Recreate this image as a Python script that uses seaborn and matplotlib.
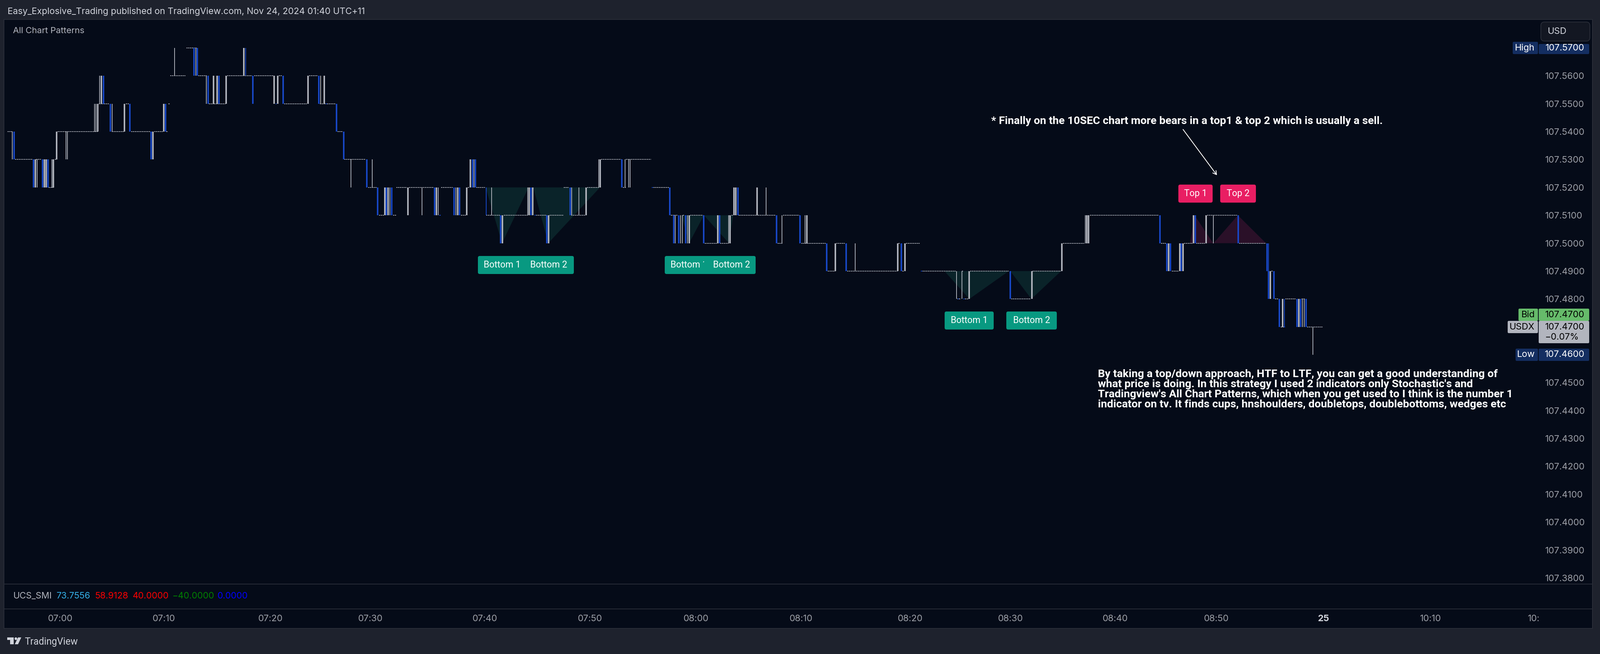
import matplotlib
matplotlib.use("Agg")
import matplotlib.pyplot as plt
import pandas as pd
import seaborn as sns
from matplotlib.patches import Circle, FancyArrowPatch, FancyBboxPatch, Polygon, Rectangle
from matplotlib.transforms import Affine2D

# x axis is bar number, price on y
price_ticks = [107.38, 107.39, 107.40, 107.41, 107.42, 107.43, 107.44, 107.45, 107.48, 107.49,
               107.50, 107.51, 107.52, 107.53, 107.54, 107.55, 107.56]
time_ticks = [33.3, 90.7, 150, 205.4, 268.8, 327, 385.8, 444.2, 504.6, 560.2, 618.4, 674.4, 733.8, 793.2, 850.4]
time_labels = ["07:00", "07:10", "07:20", "07:30", "07:40", "07:50", "08:00", "08:10", "08:20", "08:30",
               "08:40", "08:50", "25", "10:10", "10:"]

# flat candles
flat_price = [107.54, 107.53, 107.53, 107.52, 107.53, 107.54, 107.55, 107.54, 107.55, 107.54, 107.54, 107.54,
              107.55, 107.56, 107.57, 107.56, 107.55, 107.56, 107.56, 107.56, 107.55, 107.56, 107.55, 107.54,
              107.53, 107.52, 107.51, 107.51, 107.52, 107.52, 107.52, 107.51, 107.52, 107.52, 107.51, 107.51,
              107.51, 107.51, 107.52, 107.51, 107.52, 107.53, 107.52, 107.53, 107.52, 107.51, 107.51, 107.51,
              107.50, 107.50, 107.51, 107.51, 107.50, 107.51, 107.50, 107.49, 107.50, 107.49, 107.50, 107.49,
              107.50, 107.49, 107.49, 107.49, 107.48, 107.48, 107.48, 107.49, 107.50, 107.51, 107.50, 107.49,
              107.50, 107.50, 107.51, 107.50, 107.49, 107.48, 107.47, 107.48, 107.48, 107.47]
flat_start = [4.2, 8.3, 20.0, 27.0, 30.4, 31.9, 54.8, 61.9, 69.8, 72.7, 85.5, 92.1,
              93.4, 94.4, 103.3, 110.0, 115.8, 126.0, 140.9, 154.6, 157.6, 171.4, 177.3, 187.2,
              191.0, 204.1, 210.2, 217.9, 219.8, 226.8, 244.6, 255.5, 259.3, 264.2, 269.5, 279.3,
              296.3, 304.8, 312.6, 316.7, 325.6, 333.3, 345.4, 347.0, 361.4, 371.9, 378.6, 382.7,
              390.7, 399.4, 405.6, 409.6, 431.2, 434.2, 444.3, 459.0, 463.8, 469.8, 498.2, 500.4,
              502.4, 510.6, 533.3, 538.0, 530.7, 534.2, 560.7, 572.6, 589.4, 604.3, 643.8, 649.7,
              656.6, 663.3, 669.4, 687.2, 705.0, 707.0, 710.1, 712.8, 721.8, 724.7]
flat_end = [7.0, 17.9, 23.0, 30.0, 31.6, 54.2, 60.6, 68.9, 71.4, 83.2, 90.6, 93.1,
            94.1, 102.8, 109.1, 114.5, 125.0, 139.7, 151.5, 156.2, 170.3, 176.0, 186.0, 190.0,
            202.8, 208.9, 212.8, 219.8, 225.5, 240.6, 251.0, 258.4, 260.3, 269.1, 277.2, 292.5,
            302.7, 312.6, 315.4, 324.7, 332.0, 344.4, 346.9, 361.0, 370.9, 375.8, 379.6, 389.7,
            397.7, 403.8, 406.6, 430.0, 433.8, 443.1, 458.0, 463.1, 468.6, 497.6, 499.2, 501.4,
            510.1, 530.1, 534.0, 559.4, 532.7, 537.1, 571.6, 588.4, 601.4, 642.6, 646.3, 653.5,
            661.2, 668.4, 686.1, 702.0, 705.8, 708.9, 712.4, 718.6, 723.5, 733.4]
blue_flat_price = [107.55, 107.55, 107.51, 107.51, 107.52, 107.49, 107.48, 107.48, 107.47]
blue_flat_start = [152.7, 180.6, 243.6, 296.3, 361.4, 510.6, 531.0, 534.2, 711.8]
blue_flat_end = [153.4, 181.4, 244.4, 297.1, 362.2, 511.4, 531.8, 535.0, 712.6]

# each list below holds the bars starting from that low, every bar spans one 0.01 tick
bar_lows = [107.46, 107.47, 107.48, 107.49, 107.50, 107.51, 107.52, 107.53, 107.54, 107.55, 107.56]
blue_bars = [
    [],
    [709.4, 719.2, 721.2, 724.2],
    [560.2, 703.4, 706.4],
    [458.4, 469.1, 499.7, 647.0, 649.0, 655.0, 702.6],
    [277.6, 303.2, 373.5, 376.4, 380.2, 390.2, 399.0, 430.6, 443.6, 643.2, 662.8, 686.6],
    [209.4, 214.2, 217.2, 240.9, 251.8, 254.8, 294.4, 316.1, 371.4, 409.1],
    [18.6, 23.6, 26.5, 203.3, 261.9, 263.5, 344.8],
    [7.8, 83.8, 190.6],
    [61.2, 71.9, 91.8, 186.6],
    [57.3, 115.4, 121.4, 140.2, 157.0, 176.8],
    [107.5, 109.4],
]
thin_blue_bars = [[], [712.2], [], [703.4], [], [269.5], [], [], [], [], [136.1]]
gray_bars = [
    [],
    [711.2, 720.2],
    [537.4, 572.1, 704.4],
    [463.1, 497.8, 501.8, 588.8, 648.0, 654.1, 656.0],
    [278.6, 304.2, 382.1, 398.0, 404.8, 447.3, 602.6, 603.6, 661.8, 668.8],
    [213.4, 215.1, 226.1, 242.0, 253.8, 258.8, 293.4, 295.3, 325.0, 407.0, 408.0, 419.8],
    [19.6, 24.6, 25.6, 29.6, 260.8, 332.8],
    [31.4, 84.8],
    [54.1, 69.0, 90.8],
    [56.1, 118.4, 120.4, 125.4, 152.0, 154.0, 170.8, 179.7],
    [135.2],
]
thin_gray_bars = [
    [728.0],
    [722.2, 723.1],
    [530.4, 533.3],
    [474.1],
    [374.4, 377.4, 378.4, 381.1, 404.0, 433.5, 446.4, 601.7, 672.7],
    [216.2, 233.9, 243.0, 252.7, 272.6, 292.5, 317.0, 320.9, 424.7],
    [20.5, 28.8, 194.5, 206.4, 262.8, 332.0, 346.6, 348.6, 349.4],
    [6.8, 36.5, 37.4],
    [52.3, 53.1, 62.1],
    [55.2, 114.4, 177.8],
    [96.7, 108.5],
]

# chart pattern triangles, bottoms then tops
bottom_x = [[269.3, 278.4, 293.1], [295.7, 304.0, 332.7], [377.9, 382.1, 390.3], [390.3, 404.2, 406.6],
            [523.7, 537.5, 559.4], [560.2, 571.9, 588.4]]
bottom_y = [[107.52, 107.50, 107.52], [107.52, 107.50, 107.52], [107.51, 107.50, 107.51], [107.51, 107.50, 107.51],
            [107.49, 107.48, 107.49], [107.49, 107.48, 107.49]]
top_x = [[659.9, 662.4, 672.7], [672.9, 686.4, 702.0]]
top_y = [[107.50, 107.51, 107.50], [107.50, 107.51, 107.50]]

indicator_names = ["UCS_SMI", "73.7556", "58.9128", "40.0000", "\u221240.0000", "0.0000"]

W, H = 4436, 1814
BG = "#1e222d"
PANE = "#050b18"
LINE = "#2a2e39"
GRAY = "#b2b5be"
BLUE = "#1848c8"
FONT = "Inter"

sns.set_theme(style="dark", rc={"font.family": FONT, "axes.facecolor": PANE, "figure.facecolor": BG,
                                "axes.grid": False, "lines.solid_capstyle": "butt",
                                "lines.dash_capstyle": "butt"})


def px(size):
    return size * 0.72


def seg_frame(starts, ends, prices):
    rows = []
    for n, (a, b, p) in enumerate(zip(starts, ends, prices)):
        rows.append({"seg": n, "x": a, "y": p})
        rows.append({"seg": n, "x": b, "y": p})
    return pd.DataFrame(rows)


def bar_frame(groups):
    rows = []
    n = 0
    for low, xs in zip(bar_lows, groups):
        for x in xs:
            rows.append({"seg": n, "x": x, "y": low})
            rows.append({"seg": n, "x": x, "y": low + 0.01})
            n += 1
    return pd.DataFrame(rows)


def draw_lines(df, color, width, **kw):
    sns.lineplot(data=df, x="x", y="y", units="seg", estimator=None, sort=False, color=color,
                 linewidth=px(width), ax=ax, legend=False, errorbar=None, **kw)


fig = plt.figure(figsize=(W / 100, H / 100), dpi=100, facecolor=BG)
# reference pixel coordinates, y going down
pix = Affine2D().scale(1, -1).translate(0, H)

# pane background runs under the price scale too
fig.add_artist(Rectangle((11, 54), 4404, 1689, transform=pix, facecolor=PANE, edgecolor=LINE, linewidth=px(2),
                         zorder=-5))

ax = fig.add_axes([11 / W, 1 - 1620 / H, (4265 - 11) / W, (1620 - 54) / H])
ax.set_facecolor("none")
ax.set_zorder(2)

for xs, ys in zip(bottom_x, bottom_y):
    ax.fill(xs, ys, color="#0a2329", linewidth=0, zorder=1)
for xs, ys in zip(top_x, top_y):
    ax.fill(xs, ys, color="#2a1028", linewidth=0, zorder=1)

draw_lines(seg_frame(flat_start, flat_end, flat_price), GRAY, 2, dashes=False, linestyle=(0, (1.6, 0.85)), zorder=2)
draw_lines(seg_frame(blue_flat_start, blue_flat_end, blue_flat_price), BLUE, 2, zorder=3)
draw_lines(bar_frame(thin_gray_bars), GRAY, 2, zorder=3)
draw_lines(bar_frame(gray_bars), GRAY, 4.2, zorder=3)
draw_lines(bar_frame(thin_blue_bars), BLUE, 2.2, zorder=4)
draw_lines(bar_frame(blue_bars), BLUE, 4.2, zorder=4)

ax.set_xlim(2.2, 853)
ax.set_ylim(107.3778, 107.5802)
ax.set_xlabel("")
ax.set_ylabel("")
for s in ax.spines.values():
    s.set_visible(False)
ax.yaxis.tick_right()
ax.set_yticks(price_ticks, [f"{p:.4f}" for p in price_ticks])
ax.set_xticks(time_ticks, time_labels)
ax.tick_params(axis="y", length=0, pad=px(19), labelsize=px(25), labelcolor="#9da0a8")
ax.tick_params(axis="x", length=0, pad=px(85), labelsize=px(25), labelcolor="#9da0a8")
for lab in ax.get_xticklabels():
    if lab.get_text() == "25":
        lab.set_color("#d1d4dc")
        lab.set_fontweight("bold")


def ftext(x, y, s, color, size, ha="left", weight="normal", z=20, family=None):
    fig.text(x, y, s, transform=pix, color=color, fontsize=px(size), ha=ha, va="center", fontweight=weight,
             zorder=z, family=family or FONT)


def box(x0, y0, x1, y1, color, z=15, r=5, edge="none"):
    fig.add_artist(FancyBboxPatch((x0 + r, y0 + r), x1 - x0 - 2 * r, y1 - y0 - 2 * r, transform=pix,
                                  boxstyle=f"round,pad={r},rounding_size={r}", facecolor=color, edgecolor=edge,
                                  linewidth=px(2) if edge != "none" else 0, zorder=z))


# panes and borders
for y in (1620, 1689):
    fig.add_artist(Rectangle((11, y - 1), 4404, 2, transform=pix, facecolor=LINE, edgecolor="none", zorder=5))

# header and footer
ftext(21, 32, "Easy_Explosive_Trading published on TradingView.com, Nov 24, 2024 01:40 UTC+11", "#d1d4dc", 24.7)
ftext(36, 86, "All Chart Patterns", GRAY, 24)
ftext(68, 1780, "TradingView", "#d1d4dc", 26.5, family="Roboto")
fig.add_artist(Polygon([(20, 1768), (38, 1768), (38, 1787), (28, 1787), (28, 1775), (20, 1775)], transform=pix,
                       facecolor="#d1d4dc", edgecolor="none"))
fig.add_artist(Circle((44, 1771.5), 3.7, transform=pix, facecolor="#d1d4dc", edgecolor="none"))
fig.add_artist(Polygon([(50, 1768), (59, 1768), (50, 1787), (41, 1787)], transform=pix,
                       facecolor="#d1d4dc", edgecolor="none"))

# indicator legend
for x, s, c in zip([37, 157, 263, 368, 478, 603], indicator_names,
                   [GRAY, "#35b0e8", "#ff0000", "#ff0000", "#008000", "#0000ff"]):
    ftext(x, 1653, s, c, 24.5)

# pattern labels, later box covers the earlier one
TEAL = "#089981"
PINK = "#e91e63"
for x0, x1, tx, c, s, z in [(1325, 1461, 1392, TEAL, "Bottom 1", 6), (1453, 1591, 1521, TEAL, "Bottom 2", 8),
                            (1843, 1979, 1910, TEAL, "Bottom 1", 6), (1952, 2095, 2028, TEAL, "Bottom 2", 8)]:
    box(x0, 710, x1, 760, c, z=z)
    ftext(tx, 735, s, "white", 25, ha="center", z=z + 1, family="Roboto")
for x0, x1, tx, s in [(2619, 2755, 2687, "Bottom 1"), (2790, 2930, 2860, "Bottom 2")]:
    box(x0, 864, x1, 914, TEAL, z=6)
    ftext(tx, 889, s, "white", 25, ha="center", z=9, family="Roboto")
for x0, x1, s in [(3267, 3362, "Top 1"), (3383, 3482, "Top 2")]:
    box(x0, 512, x1, 562, PINK, z=6)
    ftext((x0 + x1) / 2, 537, s, "white", 25, ha="center", z=9, family="Roboto")

# drawn notes
ftext(2748, 336, "* Finally on the 10SEC chart more bears in a top1 & top 2 which is usually a sell.", "white", 30.4,
      weight="bold", family="Roboto")
note_lines = ["By taking a top/down approach, HTF to LTF, you can get a good understanding of",
              "what price is doing. In this strategy I used 2 indicators only Stochastic's and",
              "Tradingview's All Chart Patterns, which when you get used to I think is the number 1",
              "indicator on tv. It finds cups, hnshoulders, doubletops, doublebottoms, wedges etc"]
for y, s in zip([1038, 1066, 1094, 1122], note_lines):
    ftext(3044, y, s, "white", 30.5, weight="bold", family="Roboto")
fig.add_artist(FancyArrowPatch((3280, 359), (3374, 486), transform=pix, arrowstyle="->,head_length=7,head_width=4",
                               color="white", linewidth=px(2.2), shrinkA=0, shrinkB=0, zorder=10))

# price scale pills
NAVY = "#142e61"
box(4272, 61, 4408, 114, "#131722", edge="#2a2e39", r=10)
ftext(4291, 88, "USD", "#d1d4dc", 25)
for left, top_l, top_r, bot_l, bot_r, c, tc, name, val, yt in [
    (4194, 116, 122, 150, 150, NAVY, "white", "High", "107.5700", 133),
    (4210, 856, 856, 890, 890, "#66bb6a", "black", "Bid", "107.4700", 873),
    (4180, 890, 890, 924, 952, GRAY, "black", "USDX", "107.4700", 907),
    (4202, 967, 967, 1001, 1001, NAVY, "white", "Low", "107.4600", 984),
]:
    box(left, top_l, 4264, bot_l, c, r=3)
    box(4266, top_r, 4406, bot_r, c, r=3)
    ftext(4255, yt, name, tc, 25, ha="right")
    ftext(4393, yt, val, tc, 25, ha="right")
ftext(4283, 935, "\u22120.07%", "black", 25)

fig.savefig("out.png", dpi=100, facecolor=BG)
plt.close(fig)
